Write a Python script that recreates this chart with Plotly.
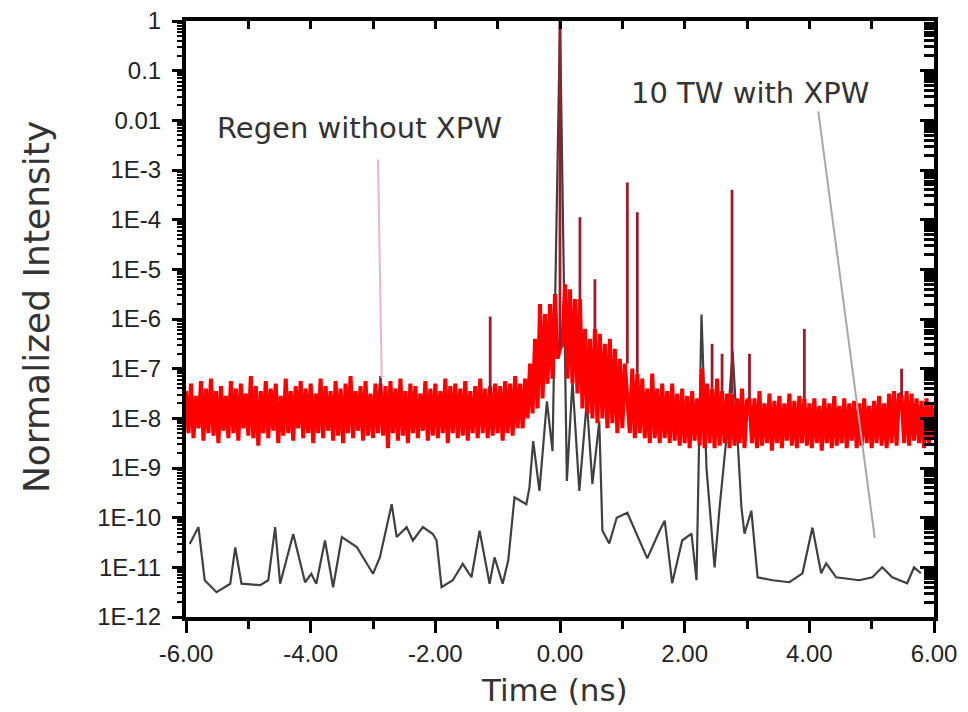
import numpy as np
import plotly.graph_objects as go

# ---------------- data (log10 of normalized intensity) ----------------
# Regen without XPW: dense noisy trace, sampled every 0.04 ns, three spans
regen_pre_span = (-6.00, -0.72)
regen_pre_log = [
    -7.45, -8.3, -7.3, -8.4, -7.55, -8.2, -7.25, -8.45, -7.4, -8.3,
    -7.2, -8.35, -7.45, -8.5, -7.35, -8.25, -7.55, -8.4, -7.25, -8.3,
    -7.4, -8.45, -7.3, -8.2, -7.5, -8.35, -7.15, -8.4, -7.35, -8.55,
    -7.45, -8.3, -7.25, -8.4, -7.4, -8.25, -7.3, -8.5, -7.55, -8.35,
    -7.2, -8.3, -7.45, -8.45, -7.35, -8.2, -7.25, -8.4, -7.4, -8.3,
    -7.3, -8.5, -7.5, -8.3, -7.2, -8.4, -7.35, -8.25, -7.45, -8.45,
    -7.25, -8.35, -7.4, -8.5, -7.3, -8.3, -7.15, -8.4, -7.45, -8.25,
    -7.35, -8.45, -7.25, -8.35, -7.5, -8.4, -7.3, -8.3, -7.3, -8.35,
    -7.35, -8.6, -7.25, -8.3, -7.4, -8.45, -7.2, -8.35, -7.45, -8.5,
    -7.3, -8.3, -7.35, -8.4, -7.5, -8.25, -7.25, -8.45, -7.4, -8.35,
    -7.3, -8.4, -7.45, -8.3, -7.2, -8.5, -7.35, -8.3, -7.3, -8.4,
    -7.4, -8.35, -7.25, -8.45, -7.45, -8.3, -7.35, -8.4, -7.2, -8.3,
    -7.4, -8.4, -7.35, -8.35, -7.3, -8.3, -7.35, -8.45, -7.25, -8.3,
    -7.3, -8.35, -7.15,
]
regen_mid_span = (-0.68, 1.60)
regen_mid_log = [
    -8.2, -7.3, -8.2, -7.2, -8.0, -6.9, -7.9, -6.4, -7.8, -5.7,
    -7.6, -5.9, -7.3, -5.7, -7.2, -5.5, -6.8, -6.6, -6.5, -5.3,
    -7.2, -5.4, -7.3, -5.6, -7.5, -5.6, -7.8, -6.2, -7.9, -6.4,
    -8.0, -6.2, -8.1, -6.3, -8.0, -6.5, -8.2, -6.4, -8.1, -6.6,
    -8.3, -6.8, -8.2, -6.9, -7.6, -8.3, -7.0, -8.4, -7.1, -8.3,
    -7.2, -8.4, -7.4, -8.5, -7.1, -8.4, -7.4, -8.5,
]
regen_post_span = (1.64, 6.00)
regen_post_log = [
    -7.3, -8.4, -7.45, -8.5, -7.3, -8.45, -7.5, -8.55, -7.4, -8.5,
    -7.55, -8.6, -7.45, -8.45, -7.6, -8.55, -7.0, -8.6, -7.3, -8.5,
    -7.4, -8.6, -7.2, -8.55, -7.45, -8.5, -7.5, -8.6, -7.5, -8.55,
    -7.6, -8.5, -7.4, -8.6, -7.65, -7.6, -8.5, -7.6, -8.6, -7.45,
    -8.55, -7.7, -8.5, -7.5, -8.65, -7.65, -8.5, -7.55, -8.6, -7.7,
    -8.45, -7.5, -8.55, -7.65, -8.6, -7.55, -8.5, -7.6, -8.55, -7.7,
    -8.6, -7.6, -8.5, -7.75, -8.65, -7.6, -8.5, -7.7, -8.6, -7.55,
    -8.55, -7.75, -8.5, -7.6, -8.6, -7.7, -8.45, -7.65, -8.6, -7.7,
    -8.55, -7.6, -8.5, -7.75, -8.6, -7.65, -8.5, -7.55, -8.55, -7.7,
    -8.6, -7.5, -8.5, -7.45, -8.55, -7.5, -7.55, -8.5, -7.45, -8.55,
    -7.5, -8.45, -7.6, -8.5, -7.65, -8.6, -7.6, -8.5, -7.7, -8.4,
]
# isolated spikes of the Regen trace: time, foot, top (log10)
regen_spike_t = [-2.88, -1.12, 0.00, 0.32, 0.56, 1.08, 1.24, 2.44, 2.60, 2.76, 3.04, 3.92, 5.48]
regen_spike_base = [-7.5, -7.5, -6.6, -5.6, -6.2, -6.9, -7.1, -7.4, -7.45, -7.5, -7.6, -7.6, -7.55]
regen_spike_peak = [-7.15, -5.95, 0.0, -3.95, -5.2, -3.25, -3.85, -6.5, -6.7, -3.4, -6.7, -6.2, -7.0]

# 10 TW with XPW
xpw_t = [-5.94, -5.80, -5.70, -5.51, -5.29, -5.21, -5.11, -4.81, -4.68, -4.57,
         -4.49, -4.28, -4.09, -3.99, -3.91, -3.77, -3.64, -3.50, -3.26, -3.00,
         -2.89, -2.70, -2.62, -2.46, -2.36, -2.20, -2.04, -1.98, -1.90, -1.72,
         -1.56, -1.42, -1.29, -1.13, -1.05, -0.92, -0.83, -0.73, -0.54, -0.49,
         -0.43, -0.33, -0.21, -0.12, 0.00, 0.11, 0.20, 0.31, 0.43, 0.52,
         0.63, 0.68, 0.79, 0.91, 1.08, 1.28, 1.40, 1.60, 1.68, 1.80,
         1.96, 2.11, 2.19, 2.27, 2.35, 2.48, 2.56, 2.67, 2.77, 2.91,
         2.96, 3.07, 3.17, 3.41, 3.68, 3.89, 4.05, 4.19, 4.27, 4.43,
         4.80, 5.01, 5.17, 5.33, 5.57, 5.68, 5.79]
xpw_log = [-10.53, -10.19, -11.26, -11.50, -11.33, -10.60, -11.33, -11.36, -11.26, -10.19,
           -11.33, -10.33, -11.30, -11.13, -11.33, -10.46, -11.40, -10.39, -10.59, -11.13,
           -10.80, -9.73, -10.39, -10.19, -10.46, -10.19, -10.33, -10.46, -11.40, -11.26,
           -10.93, -11.20, -10.26, -11.33, -10.80, -11.33, -10.86, -9.59, -9.73, -9.39,
           -8.46, -9.46, -7.66, -8.66, 0.0, -9.26, -7.25, -9.46, -7.66, -9.32,
           -8.06, -10.26, -10.52, -10.0, -9.90, -10.46, -10.82, -10.26, -10.06, -11.32,
           -10.46, -10.32, -11.26, -5.91, -9.0, -11.0, -9.80, -8.40, -6.65, -9.79,
           -10.32, -9.86, -11.20, -11.26, -11.30, -11.12, -10.20, -11.12, -10.92, -11.20,
           -11.26, -11.20, -11.00, -11.20, -11.32, -11.00, -11.12]

x_tick_vals = [-6, -4, -2, 0, 2, 4, 6]
x_tick_text = ["-6.00", "-4.00", "-2.00", "0.00", "2.00", "4.00", "6.00"]
x_minor_vals = [-5, -3, -1, 1, 3, 5]
x_top_vals = [-5, -4, -3, -2, -1, 0, 1, 2, 3, 4, 5]
y_tick_exp = [0, -1, -2, -3, -4, -5, -6, -7, -8, -9, -10, -11, -12]
y_tick_text = ["1", "0.1", "0.01", "1E-3", "1E-4", "1E-5", "1E-6", "1E-7",
               "1E-8", "1E-9", "1E-10", "1E-11", "1E-12"]

# ---------------- build ----------------
def span_times(span, n):
    return np.linspace(span[0], span[1], n)

regen_t = np.concatenate([span_times(regen_pre_span, len(regen_pre_log)),
                          span_times(regen_mid_span, len(regen_mid_log)),
                          span_times(regen_post_span, len(regen_post_log))])
regen_y = 10.0 ** np.array(regen_pre_log + regen_mid_log + regen_post_log)

spike_x, spike_y = [], []
for t, b, p in zip(regen_spike_t, regen_spike_base, regen_spike_peak):
    spike_x += [t, t, None]
    spike_y += [10.0 ** b, 10.0 ** p, None]

y_tick_vals = [10.0 ** e for e in y_tick_exp]
y_minor_vals = [k * 10.0 ** e for e in range(-12, 0) for k in range(2, 10)]

fig = go.Figure()
fig.add_trace(go.Scatter(x=xpw_t, y=10.0 ** np.array(xpw_log), mode="lines",
                         line=dict(color="#404040", width=2.2), name="10 TW with XPW"))
fig.add_trace(go.Scatter(x=regen_t, y=regen_y, mode="lines",
                         line=dict(color="#ff0000", width=4), name="Regen without XPW"))
fig.add_trace(go.Scatter(x=spike_x, y=spike_y, mode="lines",
                         line=dict(color="#9b1c2c", width=2.8), name="Regen spikes"))
# empty trace so that the mirrored top / right axes are bound to a subplot
fig.add_trace(go.Scatter(x=[], y=[], xaxis="x2", yaxis="y2", showlegend=False,
                         hoverinfo="skip"))

tick_font = dict(family="Liberation Sans, Arial, sans-serif", size=24, color="#222222")
label_font = dict(family="DejaVu Sans, sans-serif", size=29, color="#333333")
title_font = dict(family="DejaVu Sans, sans-serif", size=31, color="#333333")

fig.update_layout(
    width=960, height=704,
    margin=dict(l=178, r=34, t=13, b=95),
    paper_bgcolor="white", plot_bgcolor="white",
    showlegend=False,
    xaxis=dict(range=[-6, 6], tickmode="array", tickvals=x_tick_vals, ticktext=x_tick_text,
               ticks="outside", ticklen=12, tickwidth=3, tickcolor="black",
               showline=True, linewidth=4, linecolor="black", mirror=True,
               showgrid=False, zeroline=False, tickfont=tick_font, automargin=False,
               ticklabeloverflow="allow",
               minor=dict(tickvals=x_minor_vals, ticks="outside", ticklen=8,
                          tickwidth=3, tickcolor="black", showgrid=False)),
    xaxis2=dict(range=[-6, 6], overlaying="x", side="top", anchor="y",
                tickmode="array", tickvals=x_top_vals, ticks="inside", ticklen=8,
                tickwidth=3, tickcolor="black", showticklabels=False, automargin=False,
                showgrid=False, zeroline=False, showline=False),
    yaxis=dict(type="log", range=[-12, 0], tickmode="array", tickvals=y_tick_vals,
               ticktext=y_tick_text, ticks="outside", ticklen=10, tickwidth=3,
               tickcolor="black", showline=True, linewidth=4, linecolor="black",
               mirror=True, showgrid=False, zeroline=False, tickfont=tick_font,
               automargin=False, ticklabelstandoff=6, ticklabeloverflow="allow",
               minor=dict(tickvals=y_minor_vals, ticks="outside", ticklen=5,
                          tickwidth=2, tickcolor="black", showgrid=False)),
    yaxis2=dict(type="log", range=[-12, 0], overlaying="y", side="right", anchor="x",
                tickmode="array", tickvals=y_tick_vals, ticks="inside", ticklen=14,
                tickwidth=3, tickcolor="black", showticklabels=False, automargin=False,
                showgrid=False, zeroline=False, showline=False,
                minor=dict(tickvals=y_minor_vals, ticks="inside", ticklen=10,
                           tickwidth=3, tickcolor="black", showgrid=False)),
)

fig.add_annotation(text="Time (ns)", xref="paper", yref="paper", x=0.493, y=-0.1225,
                   xanchor="center", yanchor="middle", showarrow=False, font=title_font)
fig.add_annotation(text="Normalized Intensity", xref="paper", yref="paper", x=-0.2005,
                   y=0.52, xanchor="center", yanchor="middle", textangle=-90,
                   showarrow=False, font=dict(family="DejaVu Sans, sans-serif", size=36,
                                              color="#333333"))

fig.add_annotation(text="Regen without XPW", x=-3.21, y=-2.15, xref="x", yref="y",
                   showarrow=False, font=label_font)
fig.add_annotation(text="10 TW with XPW", x=3.05, y=-1.45, xref="x", yref="y",
                   showarrow=False, font=label_font)
fig.add_annotation(text="", x=-2.86, y=-7.19, ax=-2.92, ay=-2.76, xref="x", yref="y",
                   axref="x", ayref="y", showarrow=True, arrowhead=0, arrowwidth=2,
                   arrowcolor="#e6b8c8", standoff=0, startstandoff=0)
fig.add_annotation(text="", x=5.05, y=-10.41, ax=4.14, ay=-1.79, xref="x", yref="y",
                   axref="x", ayref="y", showarrow=True, arrowhead=0, arrowwidth=2,
                   arrowcolor="#a8a8a8", standoff=0, startstandoff=0)

fig.write_html("out.html")
